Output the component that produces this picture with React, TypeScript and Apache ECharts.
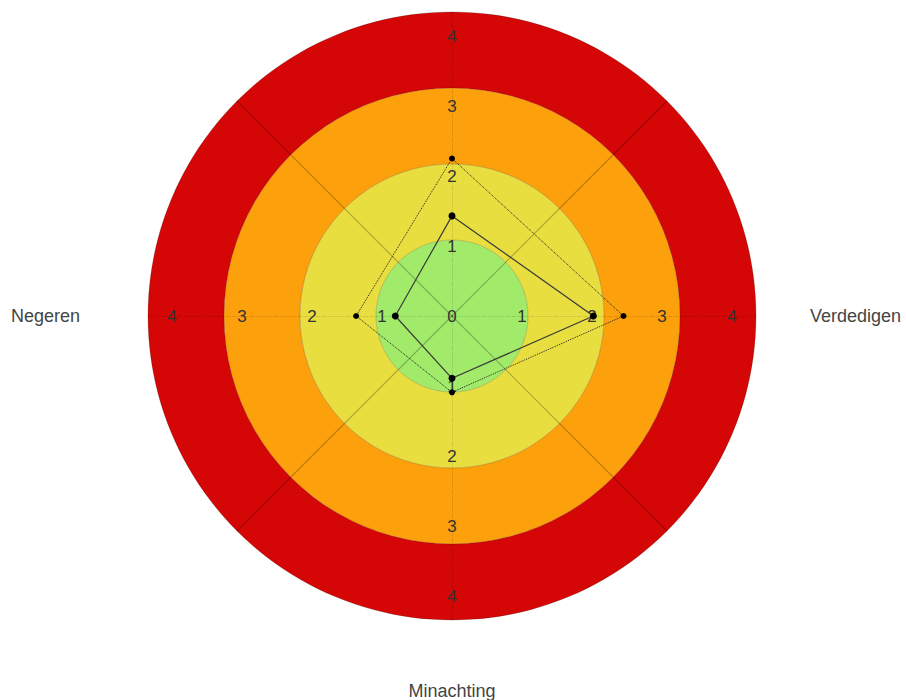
import React, { useEffect, useRef } from "react";
import * as echarts from "echarts";

// Indicator order follows ECharts (counter-clockwise from top): top, left, bottom, right
const indicatorNames = ["", "Negeren", "Minachting", "Verdedigen"];
const nameGaps = [60, 68, 62, 54];
const maxValue = 4;
const bandColors = ["#a2eb6a", "#e8de40", "#fca00c", "#d40606"];
const solidSeries = [1.43, 0.81, 0.89, 2.02];
const dottedSeries = [2.25, 1.37, 1.09, 2.45];

const FONT = "'Liberation Sans', Arial, sans-serif";

export default function App() {
  const ref = useRef<HTMLDivElement>(null);
  useEffect(() => {
    if (!ref.current) return;
    const chart = echarts.init(ref.current, null, { renderer: "svg" });
    const center = [452, 316];
    chart.setOption({
      animation: false,
      radar: [
        {
          // background bands
          z: 1,
          center,
          radius: 304,
          shape: "circle",
          splitNumber: 4,
          startAngle: 90,
          indicator: indicatorNames.map((n, i) => ({ name: n, max: maxValue, min: 0, nameGap: nameGaps[i] })),
          axisName: { show: true, color: "#444", fontSize: 18, fontFamily: FONT },
          splitArea: { show: true, areaStyle: { color: bandColors, opacity: 1 } },
          splitLine: { show: true, lineStyle: { color: "rgba(0,0,0,0.18)", width: 1 } },
          axisLine: { show: true, lineStyle: { color: "rgba(0,0,0,0.1)", width: 1, type: "dashed" } },
          axisTick: { show: false },
          axisLabel: { show: false },
        },
        {
          // diagonal grid lines
          z: 2,
          center,
          radius: 304,
          shape: "circle",
          splitNumber: 4,
          startAngle: 45,
          indicator: [0, 1, 2, 3].map(() => ({ name: "", max: maxValue, min: 0 })),
          axisName: { show: false },
          splitArea: { show: false },
          splitLine: { show: false },
          axisLine: { show: true, lineStyle: { color: "rgba(0,0,0,0.25)", width: 1.2 } },
          axisTick: { show: false },
          axisLabel: { show: false },
        },
        {
          // tick labels & data scale
          z: 3,
          center,
          radius: 280,
          shape: "circle",
          splitNumber: 4,
          startAngle: 90,
          indicator: indicatorNames.map((n, i) => ({
            name: "",
            max: maxValue,
            min: 0,
            axisLabel: { showMinLabel: i === 0 },
          })),
          axisName: { show: false },
          splitArea: { show: false },
          splitLine: { show: false },
          axisLine: { show: false },
          axisTick: { show: false },
          axisLabel: {
            show: true,
            margin: 0,
            align: "center",
            verticalAlign: "middle",
            color: "#333",
            fontSize: 17,
            fontFamily: FONT,
          },
        },
      ],
      series: [
        {
          type: "radar",
          radarIndex: 2,
          z: 4,
          symbol: "circle",
          symbolSize: 7,
          itemStyle: { color: "#000" },
          lineStyle: { color: "#3a3a3a", width: 1.2, type: "solid" },
          data: [{ value: solidSeries, name: "solid" }],
        },
        {
          type: "radar",
          radarIndex: 2,
          z: 4,
          symbol: "circle",
          symbolSize: 6,
          itemStyle: { color: "#000" },
          lineStyle: { color: "#222", width: 1, type: "dotted" },
          data: [{ value: dottedSeries, name: "dotted" }],
        },
      ],
    });
    return () => chart.dispose();
  }, []);
  return (
    <div
      ref={ref}
      style={{ position: "fixed", left: 0, top: 0, width: 906, height: 700, background: "#fff" }}
    />
  );
}
